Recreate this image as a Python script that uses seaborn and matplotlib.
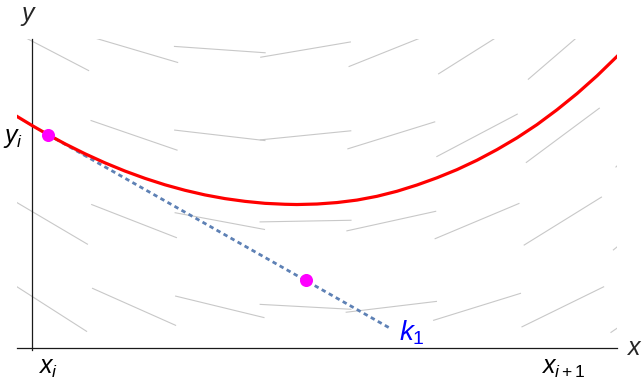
import numpy as np
import pandas as pd
import matplotlib
matplotlib.use("Agg")
import matplotlib.pyplot as plt
import seaborn as sns
from matplotlib.collections import LineCollection

# ---- slope field: grid centres and the slope at each grid point ----
field_x = [0.19, 1.19, 2.19, 3.19, 4.19, 5.19, 6.19, 7.19]
field_y = [0.48, 1.48, 2.48, 3.48]
slopes_row0 = [-0.64, -0.445, -0.243, -0.054, 0.12, 0.31, 0.49, 0.68]
slopes_row1 = [-0.59, -0.39, -0.187, 0.018, 0.22, 0.42, 0.62, 0.82]
slopes_row2 = [-0.566, -0.344, -0.116, 0.10, 0.31, 0.527, 0.743, 0.97]
slopes_row3 = [-0.52, -0.295, -0.07, 0.17, 0.40, 0.63, 0.86, 1.09]
segment_length = 1.073

# ---- solution curve through (x_i, y_i) ----
curve_x = [-0.187, 0.000, 0.190, 0.385, 0.618, 0.851, 1.085, 1.318, 1.551,
           1.784, 2.017, 2.251, 2.484, 2.717, 2.950, 3.090, 3.324, 3.557,
           3.790, 4.023, 4.257, 4.490, 4.723, 4.956, 5.190, 5.423, 5.656,
           5.889, 6.122, 6.356, 6.589, 6.834]
curve_y = [2.708, 2.595, 2.486, 2.381, 2.265, 2.159, 2.063, 1.978, 1.903,
           1.839, 1.785, 1.742, 1.710, 1.687, 1.676, 1.673, 1.679, 1.696,
           1.725, 1.769, 1.828, 1.901, 1.985, 2.080, 2.190, 2.314, 2.451,
           2.605, 2.778, 2.967, 3.174, 3.412]

# ---- Runge-Kutta step quantities ----
x_i, y_i = 0.19, 2.486
x_next = 6.19
k1 = -0.566
tangent_end_x = 4.17

sns.set_theme(style="white")
plt.rcParams["mathtext.fontset"] = "custom"
plt.rcParams["mathtext.rm"] = "Liberation Sans"
plt.rcParams["mathtext.it"] = "Liberation Sans:italic"
plt.rcParams["font.family"] = ["Liberation Sans", "DejaVu Sans"]

fig = plt.figure(figsize=(6.43, 3.80), dpi=100)
ax = fig.add_axes([17 / 643, 29.7 / 380, 600 / 643, 311 / 380])
ax.set_xlim(-0.175, 6.822)
ax.set_ylim(-0.027, 3.600)

# slope-field segments
segs = []
for yv, row in zip(field_y, [slopes_row0, slopes_row1, slopes_row2, slopes_row3]):
    for xv, s in zip(field_x, row):
        d = np.array([1.0, s]) / np.hypot(1.0, s) * segment_length / 2
        segs.append([(xv - d[0], yv - d[1]), (xv + d[0], yv + d[1])])
ax.add_collection(LineCollection(segs, colors="#c8c8c8", linewidths=0.8, zorder=1))

# tangent line with slope k1
tan_df = pd.DataFrame({"x": [x_i, tangent_end_x],
                       "y": [y_i, y_i + k1 * (tangent_end_x - x_i)]})
ax.plot(tan_df["x"], tan_df["y"], color="#5e81b5", lw=2.0,
        dashes=(1.6, 1.3), zorder=2, dash_capstyle="butt")

# solution curve
curve_df = pd.DataFrame({"x": curve_x, "y": curve_y})
sns.lineplot(data=curve_df, x="x", y="y", sort=False, color="#ff0000",
             lw=2.3, ax=ax, zorder=3)

# points: start of the step and the half-step predictor
half = (x_next - x_i) / 2
pts = pd.DataFrame({"x": [x_i, x_i + half], "y": [y_i, y_i + half * k1]})
ax.plot(pts["x"], pts["y"], "o", color="#ff00ff", ms=9.4, mec="none", zorder=4)

ax.text(4.283, 0.09, "$k_1$", color="#0000ff", fontsize=20,
        ha="left", va="baseline")

# axes drawn through the origin
for side in ["top", "right"]:
    ax.spines[side].set_visible(False)
ax.spines["left"].set_position(("data", 0))
ax.spines["bottom"].set_position(("data", 0))
for side in ["left", "bottom"]:
    ax.spines[side].set_color("#1a1a1a")
    ax.spines[side].set_linewidth(0.9)

ax.set_xticks([x_i, x_next], ["$x_i$", "$x_{i+1}$"])
ax.set_yticks([y_i], ["$y_i$"])
ax.tick_params(axis="both", direction="in", length=4, width=0.8,
               color="#333333", labelsize=18, labelcolor="black")
ax.tick_params(axis="x", pad=5.5)
ax.tick_params(axis="y", pad=6.5)
ax.set_xlabel("")
ax.set_ylabel("")

ax.text(-0.035, 3.816, "$y$", fontsize=18, ha="center", va="baseline",
        clip_on=False)
ax.text(7.02, -0.085, "$x$", fontsize=18, ha="center", va="baseline",
        clip_on=False)

fig.savefig("out.png", dpi=100)
